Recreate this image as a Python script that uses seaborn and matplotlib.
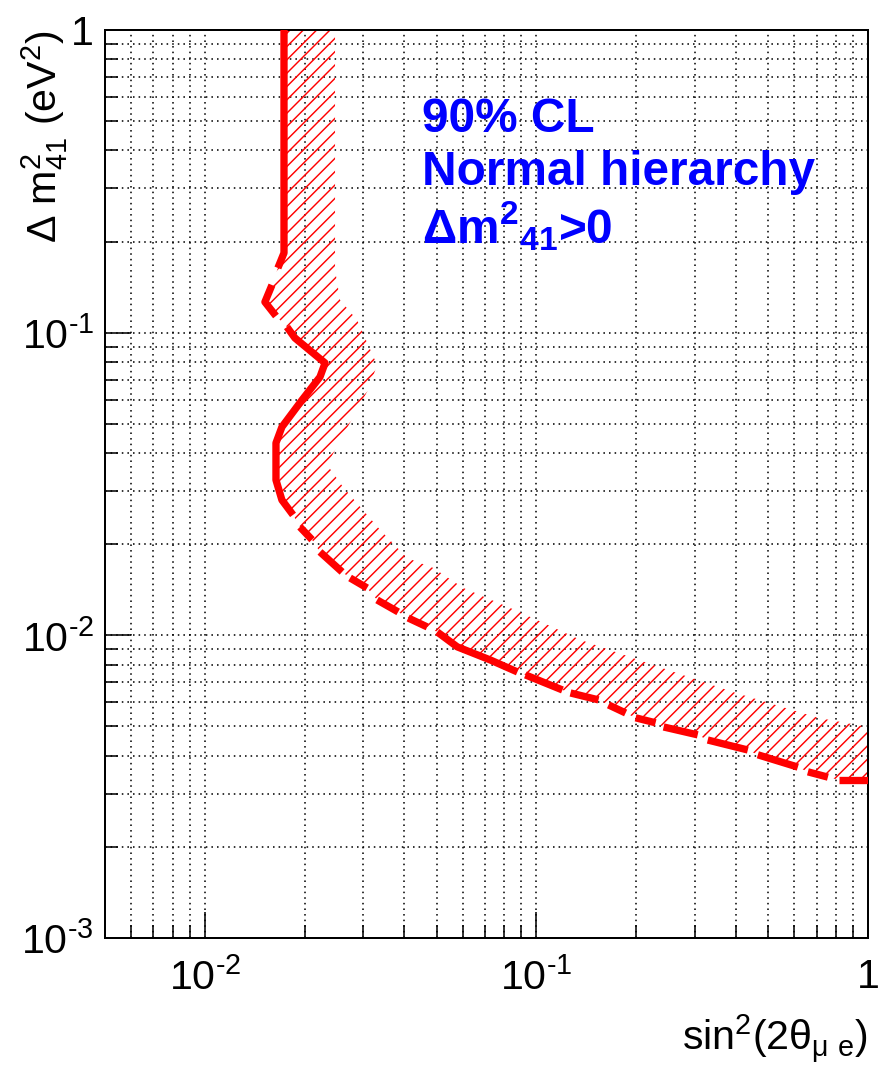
import numpy as np
import pandas as pd
import matplotlib
matplotlib.use("Agg")
import matplotlib.pyplot as plt
import seaborn as sns
from matplotlib.ticker import FixedLocator, FixedFormatter, LogLocator, NullFormatter

# ---------------- data ----------------
# 90% CL exclusion contour, drawn as separate pieces (dashed appearance)
curve_piece = (["A"] * 3 + ["B"] * 3 + ["C"] * 10 + ["D"] * 2 + ["E"] * 2 + ["F"] * 2 +
               ["G"] * 2 + ["H"] * 2 + ["I"] * 4 + ["J"] * 2 + ["K"] * 2 + ["L"] * 2 +
               ["M"] * 2 + ["N"] * 2 + ["O"] * 2 + ["P"] * 2 + ["Q"] * 2 + ["R"] * 2)
curve_x = [0.01733, 0.01733, 0.01661,
           0.01594, 0.01518, 0.01639,
           0.01769, 0.01870, 0.02305, 0.02225, 0.01964, 0.01708, 0.01639, 0.01639, 0.01708, 0.01845,
           0.01936, 0.02105,
           0.02225, 0.02594,
           0.02742, 0.03086,
           0.03308, 0.03829,
           0.04105, 0.04685,
           0.05022, 0.05772, 0.07261, 0.08762,
           0.09265, 0.1198,
           0.1267, 0.1539,
           0.1650, 0.1858,
           0.1991, 0.2288,
           0.2419, 0.3065,
           0.3286, 0.4341,
           0.4654, 0.6144,
           0.6588, 0.7570,
           0.8175, 1.0]
curve_y = [1.0, 0.1834, 0.1636,
           0.1437, 0.1263, 0.1135,
           0.1044, 0.0960, 0.0794, 0.0714, 0.0599, 0.0488, 0.0432, 0.0326, 0.0280, 0.0250,
           0.0228, 0.0207,
           0.01886, 0.01620,
           0.01547, 0.01434,
           0.01309, 0.01195,
           0.01141, 0.01066,
           0.01026, 0.00916, 0.00829, 0.00757,
           0.00740, 0.00660,
           0.00645, 0.00612,
           0.00589, 0.00554,
           0.00534, 0.00514,
           0.00498, 0.00469,
           0.00451, 0.00418,
           0.00403, 0.00367,
           0.00354, 0.00340,
           0.00333, 0.00333]

# outer edge of the hatched (excluded-side) band, top to bottom
band_x = [0.02470, 0.02470, 0.02558, 0.02878, 0.03043, 0.03308, 0.03107, 0.02685, 0.02337,
          0.02612, 0.02939, 0.03379, 0.04076, 0.04886, 0.06019, 0.08346, 0.1050, 0.1358,
          0.2164, 0.3909, 0.7064, 1.0]
band_y = [1.0, 0.1611, 0.1282, 0.1101, 0.0960, 0.0782, 0.0647, 0.0484, 0.0366,
          0.0309, 0.0266, 0.0223, 0.0180, 0.0167, 0.01434, 0.01231, 0.01099, 0.00966,
          0.00810, 0.00650, 0.00534, 0.00498]

x_ticks = [1e-2, 1e-1, 1.0]
x_tick_labels = ["10$^{\u20102}$", "10$^{\u20101}$", "1"]
y_ticks = [1e-3, 1e-2, 1e-1, 1.0]
y_tick_labels = ["10$^{\u20103}$", "10$^{\u20102}$", "10$^{\u20101}$", "1"]
x_limits = [0.005, 1.0]
y_limits = [1e-3, 1.0]

annotation_lines = ["90% CL", "Normal hierarchy", "Δm$^{2}$$_{41}$>0"]
x_title = "sin$^{2}$(2θ$_{μ\\ e}$)"
y_title = "Δ m$^{2}_{41}$ (eV$^{2}$)"

# ---------------- style ----------------
DPI = 160
sns.set_theme(style="ticks")
plt.rcParams["font.family"] = ["Liberation Sans", "DejaVu Sans"]
plt.rcParams["mathtext.default"] = "regular"
plt.rcParams["hatch.linewidth"] = 0.65
plt.rcParams["axes.linewidth"] = 0.9

W, H = 878, 1077
fig = plt.figure(figsize=(W / DPI, H / DPI), dpi=DPI)
fig.patch.set_facecolor("white")
L, R, T, B = 105, 868, 30, 938
ax = fig.add_axes([L / W, (H - B) / H, (R - L) / W, (B - T) / H])
ax.set_facecolor("white")
ax.set_xscale("log")
ax.set_yscale("log")

# hatched band (between the contour and its outer edge)
poly_x = list(curve_x) + list(band_x[::-1])
poly_y = list(curve_y) + list(band_y[::-1])
ax.fill(poly_x, poly_y, facecolor="none", edgecolor="#ff0000", hatch="////",
        linewidth=0, zorder=2)

# contour
df = pd.DataFrame({"x": curve_x, "y": curve_y, "piece": curve_piece})
sns.lineplot(data=df, x="x", y="y", units="piece", estimator=None, sort=False,
             color="#ff0000", linewidth=3.3, ax=ax, legend=False, zorder=3,
             solid_capstyle="butt", solid_joinstyle="round")

ax.set_xlim(*x_limits)
ax.set_ylim(*y_limits)

ax.xaxis.set_major_locator(FixedLocator(x_ticks))
ax.xaxis.set_major_formatter(FixedFormatter(x_tick_labels))
ax.yaxis.set_major_locator(FixedLocator(y_ticks))
ax.yaxis.set_major_formatter(FixedFormatter(y_tick_labels))
ax.xaxis.set_minor_locator(LogLocator(base=10, subs=np.arange(2, 10), numticks=20))
ax.yaxis.set_minor_locator(LogLocator(base=10, subs=np.arange(2, 10), numticks=20))
ax.xaxis.set_minor_formatter(NullFormatter())
ax.yaxis.set_minor_formatter(NullFormatter())

ax.grid(True, which="both", color="black", linestyle=(0, (1.0, 2.6)), linewidth=0.7)
ax.set_axisbelow(True)

ax.tick_params(which="major", direction="in", length=11.5, width=0.7, colors="black",
               top=False, right=False, labelsize=18.5, pad=5)
ax.tick_params(axis="x", which="major", pad=9)
ax.tick_params(which="minor", direction="in", length=6, width=0.7, colors="black",
               top=False, right=False)
for s in ax.spines.values():
    s.set_visible(True)
    s.set_color("black")
    s.set_linewidth(0.9)

ax.set_xlabel("")
ax.set_ylabel("")

fig.text(868 / W, (H - 1050) / H, x_title, ha="right", va="baseline", fontsize=18.5,
         color="black")
fig.text(45 / W, (H - 30) / H, y_title, ha="center", va="top", rotation=90,
         fontsize=18.5, color="black")

baselines = [132, 185, 243]
for txt, by in zip(annotation_lines, baselines):
    ax.text((422 - L) / (R - L), (B - by) / (B - T), txt, transform=ax.transAxes,
            ha="left", va="baseline", color="#0000ff", fontsize=21.5,
            fontweight="bold", zorder=5)

fig.savefig("out.png", dpi=DPI, facecolor="white")
